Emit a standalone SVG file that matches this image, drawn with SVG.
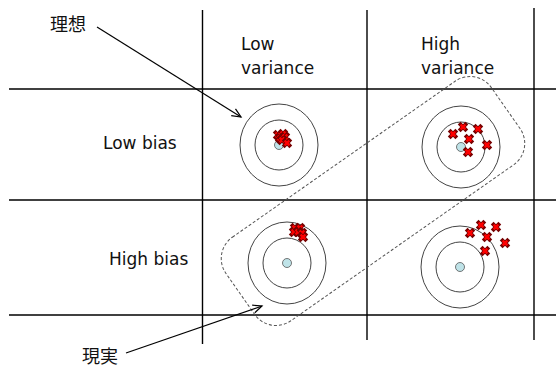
<svg xmlns="http://www.w3.org/2000/svg" width="556" height="390" viewBox="0 0 556 390">
<defs>
<style>
.grid{stroke:#000;stroke-width:1.4;fill:none}
.ring{fill:none;stroke:#444;stroke-width:1}
.bull{fill:#bfe3e8;stroke:#555;stroke-width:0.8}
.lbl{font-family:"DejaVu Sans","Liberation Sans",sans-serif;font-size:17px;fill:#111}
.cjk{font-family:"Noto Sans CJK JP","Noto Sans CJK SC",sans-serif;font-size:18px;fill:#111}
.conn{stroke:#000;stroke-width:1.2;fill:none}
.dash{fill:none;stroke:#555;stroke-width:1;stroke-dasharray:3 2}
</style>
<g id="x">
<path d="M-2.4,-2.4L2.4,2.4M2.4,-2.4L-2.4,2.4" stroke="#700" stroke-width="4" stroke-linecap="square"/>
<path d="M-2.4,-2.4L2.4,2.4M2.4,-2.4L-2.4,2.4" stroke="#f00" stroke-width="2.3"/>
</g>
<marker id="arr" markerWidth="12" markerHeight="12" refX="10" refY="5" orient="auto" markerUnits="userSpaceOnUse">
<path d="M1,1 L10,5 L1,9" fill="none" stroke="#000" stroke-width="1.2"/>
</marker>
</defs>
<g id="grid" class="grid">
<line x1="202.5" y1="10" x2="202.5" y2="344"/>
<line x1="367" y1="10" x2="367" y2="340"/>
<line x1="534" y1="8" x2="534" y2="340"/>
<line x1="9" y1="89" x2="556" y2="89"/>
<line x1="9" y1="200" x2="556" y2="200"/>
<line x1="9" y1="315" x2="556" y2="315"/>
</g>
<g id="col-low"><text class="lbl" x="241" y="50">Low</text><text class="lbl" x="241" y="74">variance</text></g>
<g id="col-high"><text class="lbl" x="421" y="50">High</text><text class="lbl" x="421" y="74">variance</text></g>
<g id="row-low"><text class="lbl" x="103" y="149">Low bias</text></g>
<g id="row-high"><text class="lbl" x="109" y="265">High bias</text></g>
<g id="t-lowbias-lowvar">
<ellipse class="ring" cx="279" cy="145" rx="39" ry="41"/>
<ellipse class="ring" cx="279" cy="145" rx="24" ry="25"/>
<circle class="bull" cx="279" cy="145" r="4.5"/>
<use href="#x" x="278" y="135"/><use href="#x" x="283" y="134"/><use href="#x" x="280" y="138"/><use href="#x" x="285" y="137"/><use href="#x" x="282" y="140"/><use href="#x" x="287" y="143"/>
</g>
<g id="t-lowbias-highvar">
<ellipse class="ring" cx="461" cy="147" rx="39" ry="41"/>
<ellipse class="ring" cx="461" cy="147" rx="24" ry="25"/>
<circle class="bull" cx="461" cy="147" r="4.5"/>
<use href="#x" x="463" y="127"/><use href="#x" x="478" y="129"/><use href="#x" x="453" y="134"/><use href="#x" x="469" y="139"/><use href="#x" x="487" y="145"/><use href="#x" x="468" y="152"/>
</g>
<g id="t-highbias-lowvar">
<ellipse class="ring" cx="287" cy="263" rx="39" ry="41"/>
<ellipse class="ring" cx="287" cy="263" rx="24" ry="25"/>
<circle class="bull" cx="287" cy="263" r="4.5"/>
<use href="#x" x="295" y="228"/><use href="#x" x="300" y="228"/><use href="#x" x="294" y="232"/><use href="#x" x="298" y="232"/><use href="#x" x="302" y="233"/><use href="#x" x="303" y="237"/>
</g>
<g id="t-highbias-highvar">
<ellipse class="ring" cx="460" cy="267" rx="39" ry="41"/>
<ellipse class="ring" cx="460" cy="267" rx="24" ry="25"/>
<circle class="bull" cx="460" cy="267" r="4.5"/>
<use href="#x" x="481" y="225"/><use href="#x" x="496" y="227"/><use href="#x" x="470" y="233"/><use href="#x" x="487" y="237"/><use href="#x" x="505" y="243"/><use href="#x" x="485" y="251"/>
</g>
<g id="reality-region">
<rect class="dash" x="-162" y="-51" width="324" height="102" rx="26" transform="translate(373 201) rotate(-35)"/>
</g>
<g id="ideal"><text class="cjk" x="50" y="31">理想</text></g>
<g id="real"><text class="cjk" x="82" y="363">現実</text></g>
<g id="connectors">
<line class="conn" x1="97" y1="27" x2="241" y2="117" marker-end="url(#arr)"/>
<line class="conn" x1="126" y1="353" x2="262" y2="306" marker-end="url(#arr)"/>
</g>
</svg>
